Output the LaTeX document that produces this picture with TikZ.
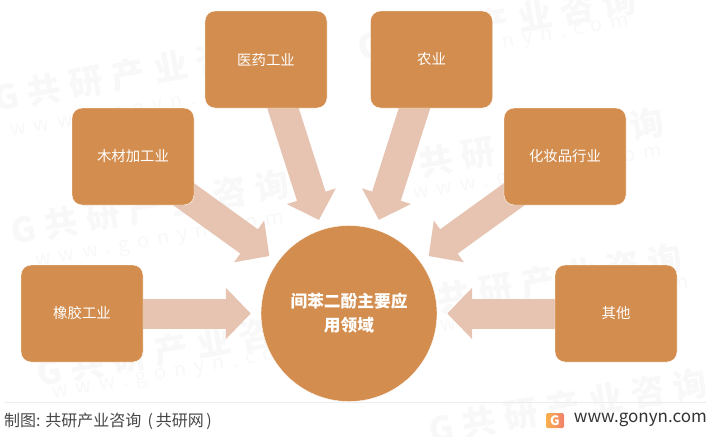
\documentclass[tikz,border=0pt]{standalone}
\usepackage{fontspec}
\setmainfont{Noto Sans CJK SC}
\usetikzlibrary{arrows.meta, calc, backgrounds}
\definecolor{boxorange}{HTML}{D38D4E}
\definecolor{arrowtan}{HTML}{E6C4B1}
\definecolor{logoorange}{HTML}{F9B04C}
\definecolor{logopink}{HTML}{F0806C}
\definecolor{marklight}{HTML}{F8F8F8}
\tikzset{
  fieldbox/.style={rectangle, rounded corners=10pt, draw=white, fill=boxorange, text=white, minimum width=122pt, minimum height=97pt, font=\fontsize{14.4}{17}\selectfont, inner sep=0pt},
  bigarrow/.style={draw=arrowtan, line width=30pt, shorten >=10pt, shorten <=-10pt, -{Triangle[width=50pt,length=25pt]}},
  markcn/.style={text=marklight, font=\fontsize{34}{36}\selectfont\bfseries\addfontfeature{LetterSpace=26}, rotate=10},
  markweb/.style={text=marklight, font=\fontsize{20}{22}\selectfont\addfontfeature{LetterSpace=40}, rotate=10}
}

\begin{document}
\begin{tikzpicture}[x=1pt,y=-1pt]
\useasboundingbox (0,0) rectangle (716,437);

% Boxes round the centre
\node[fieldbox] (medicine) at (266,59.5) {医药工业};
\node[fieldbox] (farming) at (431.5,59.5) {农业};
\node[fieldbox] (timber) at (133,156.5) {木材加工业};
\node[fieldbox] (cosmetics) at (565,156.5) {化妆品行业};
\node[fieldbox] (rubber) at (82,313.5) {橡胶工业};
\node[fieldbox] (others) at (616,313.5) {其他};
\node[circle, draw=white, fill=boxorange, text=white, minimum size=176pt, inner sep=0pt, align=center, font=\fontsize{16.7}{24}\selectfont\bfseries] (resorcinol) at (349,313.5) {间苯二酚主要应\\用领域};

% Footer
\draw[draw=black!7] (5,402.5) coordinate (ruleleft) -- (706,402.5) coordinate (ruleright);
\node[anchor=west, text=black!72, font=\fontsize{16}{18}\selectfont, inner sep=0pt] (madeby) at (4,421) {制图: 共研产业咨询 \,(\,共研网\,)};
\node[anchor=east, text=black!80, font=\fontsize{17}{20}\selectfont, inner sep=0pt] (website) at (707,419.5) {www.gonyn.com};
\node[rectangle, rounded corners=1.5pt, left color=logoorange, right color=logopink, text=white, minimum width=18pt, minimum height=15pt, inner sep=0pt, font=\fontsize{13}{13}\selectfont\bfseries] (logo) at (555,420.5) {G};

\begin{scope}[on background layer]
% Watermark
\node[markcn] (markone) at (133,74) {G共研产业咨询};
\node[markcn] (marktwo) at (150,207) {G共研产业咨询};
\node[markcn] (markthree) at (176,349) {G共研产业咨询};
\node[markcn] (markfour) at (497,23) {G共研产业咨询};
\node[markcn] (markfive) at (525,145) {G共研产业咨询};
\node[markcn] (marksix) at (543,281) {G共研产业咨询};
\node[markcn] (markseven) at (568,406) {G共研产业咨询};
\node[markweb] (webone) at (135,112) {www.gonyn.com};
\node[markweb] (webtwo) at (160,242) {www.gonyn.com};
\node[markweb] (webthree) at (177,374) {www.gonyn.com};
\node[markweb] (webfour) at (505,45) {www.gonyn.com};
\node[markweb] (webfive) at (538,175) {www.gonyn.com};
\node[markweb] (websix) at (565,307) {www.gonyn.com};

% Arrows into the centre
\draw[bigarrow] ($(medicine.south)+(17,0)$) -- (resorcinol);
\draw[bigarrow] ($(farming.south)+(-17,0)$) -- (resorcinol);
\draw[bigarrow] ($(timber.south east)+(-5,-7)$) -- (resorcinol);
\draw[bigarrow] ($(cosmetics.south west)+(5,-7)$) -- (resorcinol);
\draw[bigarrow] (rubber) -- (resorcinol);
\draw[bigarrow] (others) -- (resorcinol);
\end{scope}
\end{tikzpicture}
\end{document}
